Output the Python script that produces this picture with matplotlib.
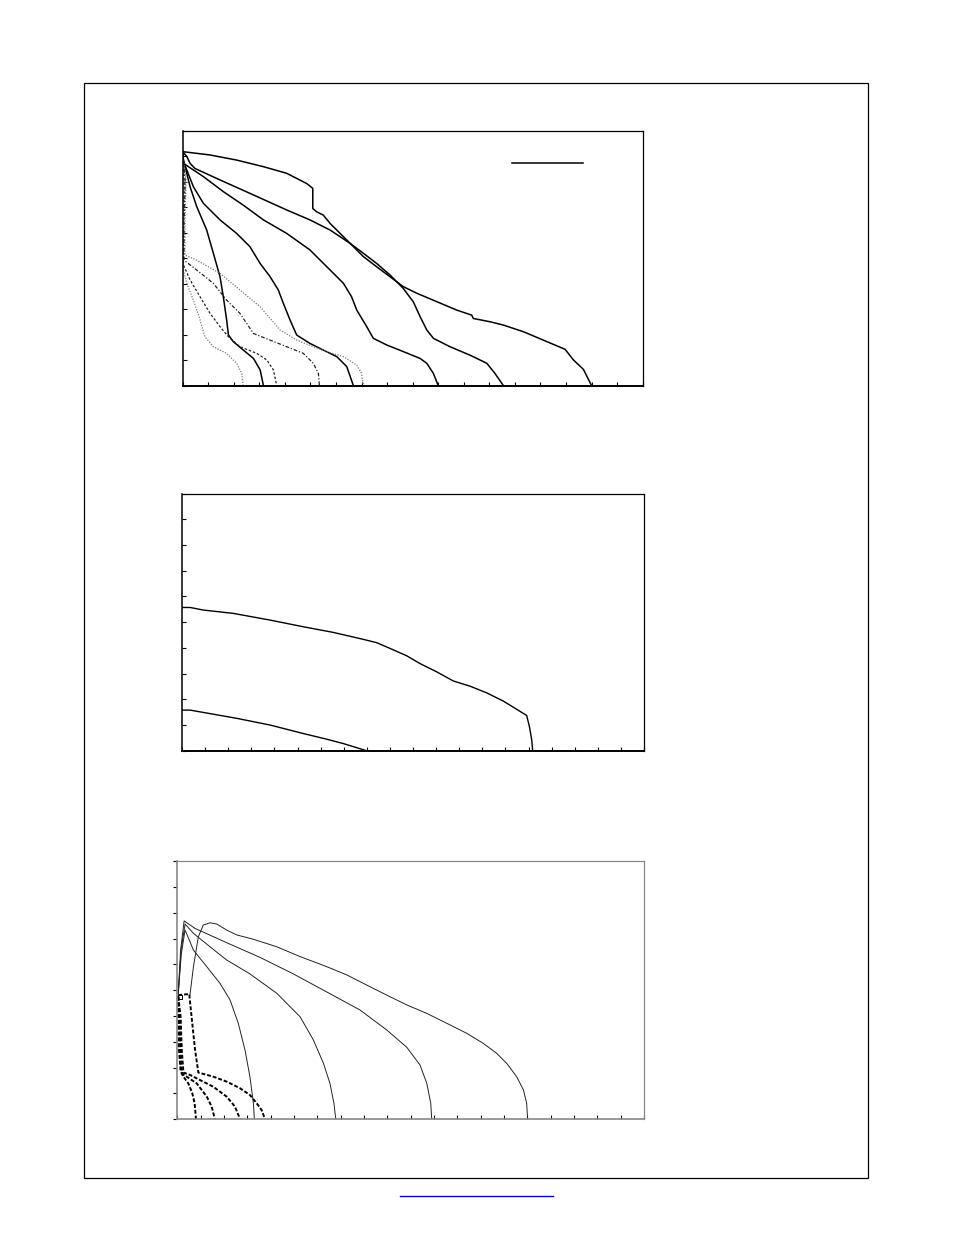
import matplotlib

matplotlib.use("Agg")
import matplotlib.pyplot as plt
from matplotlib.patches import Rectangle
from matplotlib.lines import Line2D

# ---- panel 1: five solid curves and four dotted ones (x 0-18, y 0-10)
p1_solid = [
    ([0, 1.07, 2.11, 3.16, 4.07, 4.85, 5.09, 5.09, 5.24, 5.50, 5.77, 6.03, 6.55, 7.07, 7.59, 8.11,
      8.63, 9.16, 9.94, 10.72, 11.31, 11.37, 12.03, 12.55, 13.33, 14.11, 14.96, 15.29, 15.68, 16.0],
     [9.19, 9.06, 8.86, 8.60, 8.34, 7.94, 7.75, 6.96, 6.83, 6.70, 6.37, 6.11, 5.59, 5.07, 4.67, 4.28,
      3.89, 3.63, 3.30, 2.97, 2.77, 2.64, 2.51, 2.38, 2.12, 1.79, 1.43, 1.01, 0.64, 0.0]),
    ([0, 0.16, 0.29, 0.48, 1.46, 2.77, 4.07, 4.98, 5.77, 6.55, 7.07, 7.59, 8.11, 8.63, 9.02, 9.29,
      9.55, 9.81, 10.46, 11.24, 11.90, 12.22, 12.55],
     [9.19, 9.0, 8.73, 8.53, 8.08, 7.49, 6.90, 6.51, 6.11, 5.59, 5.20, 4.80, 4.35, 3.82, 3.30, 2.71,
      2.19, 1.86, 1.53, 1.20, 0.88, 0.48, 0.0]),
    ([0, 0.03, 0.81, 1.59, 2.37, 3.16, 4.07, 4.98, 5.77, 6.29, 6.61, 6.81, 7.20, 7.46, 7.98, 8.63,
      9.29, 9.55, 9.81, 10.0],
     [9.19, 8.73, 8.21, 7.62, 7.09, 6.51, 5.98, 5.33, 4.54, 4.02, 3.49, 2.97, 2.32, 1.86, 1.60, 1.34,
      1.07, 0.88, 0.48, 0.0]),
    ([0, 0.03, 0.42, 0.81, 1.46, 2.11, 2.63, 3.03, 3.42, 3.74, 3.94, 4.20, 4.46, 4.98, 5.50, 6.03,
      6.42, 6.68],
     [9.19, 8.80, 7.81, 7.16, 6.51, 5.98, 5.46, 4.80, 4.28, 3.76, 3.23, 2.58, 1.99, 1.66, 1.40, 1.14,
      0.75, 0.0]),
    ([0, 0.03, 0.29, 0.55, 0.94, 1.20, 1.46, 1.59, 1.72, 1.79, 1.98, 2.37, 2.77, 3.03, 3.16],
     [9.19, 8.86, 7.81, 7.03, 6.11, 5.20, 4.28, 3.49, 2.58, 1.99, 1.73, 1.40, 1.07, 0.62, 0.0]),
]
p1_dotted = [
    ([0, 0.13, 0.09, 0.09, 0.55, 1.46, 2.24, 3.03, 3.81, 4.46, 5.11, 5.63, 6.29, 6.81, 7.00, 7.07],
     [9.19, 8.08, 6.51, 5.13, 4.93, 4.41, 3.76, 3.10, 2.19, 1.79, 1.53, 1.34, 1.14, 0.81, 0.48, 0.0]),
    ([0, 0.10, 0.05, 0.05, 0.55, 1.20, 1.72, 2.24, 2.77, 3.42, 4.07, 4.72, 5.11, 5.31, 5.35],
     [9.19, 8.0, 6.4, 4.93, 4.54, 4.02, 3.36, 2.84, 2.05, 1.79, 1.53, 1.27, 0.88, 0.48, 0.0]),
    ([0, 0.06, 0.03, 0.03, 0.29, 0.68, 1.07, 1.46, 1.79, 2.24, 2.90, 3.29, 3.55, 3.68],
     [9.19, 7.9, 6.2, 4.74, 4.15, 3.49, 2.84, 2.32, 1.92, 1.53, 1.27, 1.01, 0.62, 0.0]),
    ([0, 0.04, 0.02, 0.03, 0.16, 0.42, 0.68, 0.87, 1.20, 1.72, 2.11, 2.31, 2.37],
     [9.19, 7.7, 6.0, 4.54, 4.02, 3.36, 2.58, 1.92, 1.53, 1.27, 0.88, 0.48, 0.0]),
]
p1_dotted_styles = [(0, (1, 1.2)), (0, (3, 1.5, 1, 1.5)), (0, (2, 1.5)), (0, (1, 1.2))]
p1_dotted_colors = ["#777777", "#222222", "#222222", "#777777"]
p1_key_x = [12.88, 15.66]
p1_key_y = [8.74, 8.74]

# ---- panel 2: two solid curves (x 0-20, y 0-10)
p2_curves = [
    ([0, 0.35, 0.92, 2.22, 3.81, 5.25, 6.55, 7.85, 8.43, 9.0, 9.73, 10.30, 11.02, 11.75, 12.47,
      13.19, 13.91, 14.49, 14.92, 15.04, 15.14, 15.18],
     [5.57, 5.57, 5.47, 5.34, 5.08, 4.82, 4.60, 4.33, 4.20, 3.98, 3.69, 3.39, 3.07, 2.71, 2.51,
      2.25, 1.93, 1.61, 1.37, 0.93, 0.41, 0.0]),
    ([0, 0.35, 0.92, 2.37, 3.81, 5.25, 6.26, 6.98, 7.56, 7.99],
     [1.58, 1.58, 1.49, 1.26, 1.00, 0.67, 0.45, 0.28, 0.12, 0.0]),
]

# ---- panel 3: four thin solid curves and four bold dashed ones (x 0-20, y 0-10)
p3_solid = [
    ([0.54, 0.69, 0.90, 1.11, 1.40, 1.69, 2.11, 2.54, 3.26, 4.26, 5.26, 6.40, 7.26, 8.11, 8.97,
      9.83, 10.69, 11.54, 12.40, 13.11, 13.69, 14.11, 14.54, 14.83, 14.97, 15.01],
     [4.81, 5.91, 7.07, 7.52, 7.61, 7.56, 7.33, 7.14, 6.97, 6.68, 6.30, 5.91, 5.59, 5.20, 4.81,
      4.43, 4.10, 3.72, 3.33, 2.94, 2.55, 2.17, 1.65, 1.14, 0.62, 0.0]),
    ([0.04, 0.14, 0.29, 0.76, 2.11, 3.54, 4.97, 6.69, 7.83, 8.97, 9.83, 10.40, 10.69, 10.86, 10.90],
     [4.88, 6.55, 7.68, 7.39, 6.84, 6.27, 5.63, 4.79, 4.23, 3.46, 2.79, 2.10, 1.39, 0.62, 0.0]),
    ([0.04, 0.16, 0.33, 0.69, 1.40, 2.11, 3.11, 4.26, 5.26, 5.83, 6.26, 6.54, 6.71, 6.79],
     [4.88, 6.55, 7.56, 7.20, 6.68, 6.17, 5.63, 4.88, 3.97, 3.07, 2.17, 1.39, 0.62, 0.0]),
    ([0.04, 0.17, 0.33, 0.69, 1.26, 1.83, 2.26, 2.61, 2.90, 3.11, 3.26, 3.30],
     [4.88, 6.40, 7.33, 6.55, 5.91, 5.26, 4.62, 3.72, 2.68, 1.65, 0.62, 0.0]),
]
p3_dashed = [
    ([0.04, 0.51, 0.61, 0.76, 0.90, 1.54, 2.11, 2.69, 3.11, 3.40, 3.61, 3.76],
     [4.81, 4.85, 3.97, 2.68, 1.81, 1.65, 1.46, 1.20, 0.94, 0.62, 0.36, 0.0]),
    ([0.04, 0.14, 0.19, 0.26, 0.54, 0.97, 1.54, 2.11, 2.47, 2.69],
     [4.75, 3.97, 2.68, 1.81, 1.72, 1.52, 1.26, 0.88, 0.49, 0.0]),
    ([0.04, 0.11, 0.16, 0.23, 0.40, 0.83, 1.26, 1.47, 1.61],
     [4.75, 3.33, 2.04, 1.75, 1.65, 1.39, 0.88, 0.49, 0.0]),
    ([0.04, 0.07, 0.14, 0.26, 0.47, 0.64, 0.74, 0.80],
     [4.75, 2.68, 1.85, 1.65, 1.39, 1.01, 0.62, 0.0]),
]
p3_marker_x = [0.11]
p3_marker_y = [4.75]


def style_axis(ax, xmax, ymax, xdir, ydir, spine_color="black", heavy=True):
    ax.set_xlim(0, xmax)
    ax.set_ylim(0, ymax)
    ax.set_xticks(range(0, xmax + 1))
    ax.set_yticks(range(0, ymax + 1))
    ax.tick_params(axis="x", direction=xdir, length=3, width=0.8, labelbottom=False)
    ax.tick_params(axis="y", direction=ydir, length=3, width=0.8, labelleft=False)
    for sp in ax.spines.values():
        sp.set_linewidth(0.9)
        sp.set_color(spine_color)
    if heavy:
        ax.spines["bottom"].set_linewidth(1.4)
        ax.spines["left"].set_linewidth(1.1)


fig = plt.figure(figsize=(9.54, 12.35), dpi=100)

# page frame
fig.add_artist(Rectangle((84 / 954, 1 - 1178 / 1235), 784 / 954, 1095 / 1235,
                         transform=fig.transFigure, fill=False, edgecolor="black", linewidth=0.9))
fig.add_artist(Line2D([400 / 954, 553 / 954], [1 - 1196 / 1235] * 2,
                      transform=fig.transFigure, color="#0000cc", linewidth=1.0))

ax1 = fig.add_axes([0.1915, 0.6877, 0.4822, 0.2062])
for xs, ys in p1_solid:
    ax1.plot(xs, ys, color="black", linewidth=1.1)
for (xs, ys), ls, c in zip(p1_dotted, p1_dotted_styles, p1_dotted_colors):
    ax1.plot(xs, ys, color=c, linewidth=0.9, linestyle=ls)
ax1.plot(p1_key_x, p1_key_y, color="black", linewidth=1.1, clip_on=False)
style_axis(ax1, 18, 10, "in", "in")

ax2 = fig.add_axes([0.1908, 0.3921, 0.4843, 0.2083])
for xs, ys in p2_curves:
    ax2.plot(xs, ys, color="black", linewidth=1.0)
style_axis(ax2, 20, 10, "in", "in")

ax3 = fig.add_axes([0.1859, 0.0937, 0.4892, 0.2091])
for xs, ys in p3_solid:
    ax3.plot(xs, ys, color="#222222", linewidth=0.7)
for xs, ys in p3_dashed:
    ax3.plot(xs, ys, color="black", linewidth=1.4, linestyle=(0, (2, 1)))
ax3.plot(p3_marker_x, p3_marker_y, marker="s", markersize=3.5, markerfacecolor="none",
         markeredgecolor="black", markeredgewidth=0.7, linestyle="none")
style_axis(ax3, 20, 10, "in", "out", spine_color="#888888", heavy=False)
ax3.spines["bottom"].set_linewidth(1.2)
ax3.spines["left"].set_linewidth(1.2)

fig.savefig("out.png", dpi=100)
plt.close(fig)
